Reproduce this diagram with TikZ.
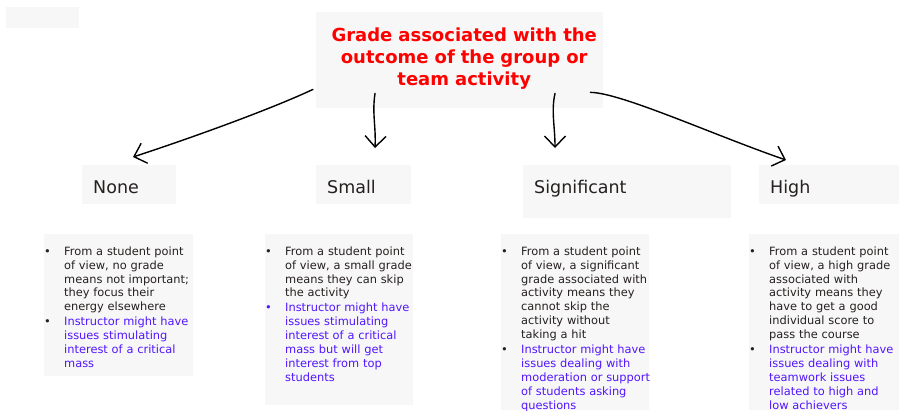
\documentclass[tikz,border=0pt]{standalone}
\usepackage{fontspec}
\setmainfont{DejaVu Sans}
\usetikzlibrary{arrows.meta, calc}

\definecolor{boxgray}{HTML}{F7F7F7}
\definecolor{titlered}{HTML}{FF0000}
\definecolor{textdark}{HTML}{262020}
\definecolor{textblue}{HTML}{5216FF}

% bullet colour, text colour, lines
\newcommand{\bulletitem}[3]{\noindent\makebox[20pt][l]{\color{#1}\textbullet}%
  {\color{#2}\begin{tabular}[t]{@{}l@{}}#3\end{tabular}}\par}

\begin{document}
\begin{tikzpicture}[x=1pt, y=-1pt,
    graybox/.style={fill=boxgray, anchor=north west, inner sep=0pt},
    labelbox/.style={graybox, inner xsep=11pt, text height=28pt, text depth=11pt,
        align=left, text=textdark, font=\fontsize{17.5}{21}\selectfont},
    listbox/.style={graybox, text height=21pt, font=\fontsize{11.4}{13.9}\selectfont},
    arrow/.style={-{Straight Barb[length=11pt,width=21pt]}, line width=1.4pt, line cap=round}]
                \useasboundingbox (0,0) rectangle (899,410);

                \node[graybox, minimum width=73pt, minimum height=21pt] (blank) at (6,7) {};
                \node[graybox, text width=287pt, text height=29pt, text depth=67pt, align=center, text=titlered,
                    font=\bfseries\fontsize{18}{22}\selectfont] (grade) at (316,12)
                    {\hspace*{9pt}Grade associated with the\\\hspace*{9pt}outcome of the group or\\\hspace*{9pt}team activity};

                \node[labelbox, text width=72pt] (none) at (82,165) {None};
                \node[labelbox, text width=73pt] (small) at (316,165) {Small};
                \node[labelbox, text width=186pt, text depth=25pt] (significant) at (523,165) {Significant};
                \node[labelbox, text width=118pt] (high) at (759,165) {High};

                \draw[arrow] ($(grade.south west)+(-3,-19)$) .. controls +(-45,21) and +(55,-18) .. ($(none.north west)+(51,-8)$);
                \draw[arrow] ($(grade.south west)+(59,-15)$) .. controls +(-3,20) and +(1,-22) .. ($(small.north west)+(59,-17)$);
                \draw[arrow] ($(grade.south west)+(239,-15)$) .. controls +(-4,18) and +(0,-22) .. ($(significant.north west)+(32,-17)$);
                \draw[arrow] ($(grade.south east)+(-13,-16)$) .. controls +(30,0) and +(-70,-24) .. ($(high.north west)+(27,-5)$);

                \node[listbox, text width=149pt, text depth=121pt] (nonelist) at (44,234) {%
                    \bulletitem{textdark}{textdark}{From a student point\\of view, no grade\\means not important;\\they focus their\\energy elsewhere}
                    \bulletitem{textdark}{textblue}{Instructor might have\\issues stimulating\\interest of a critical\\mass}};
                \node[listbox, text width=148pt, text depth=150pt] (smalllist) at (265,234) {%
                    \bulletitem{textdark}{textdark}{From a student point\\of view, a small grade\\means they can skip\\the activity}
                    \bulletitem{textblue}{textblue}{Instructor might have\\issues stimulating\\interest of a critical\\mass but will get\\interest from top\\students}};
                \node[listbox, text width=148pt, text depth=155pt] (significantlist) at (501,234) {%
                    \bulletitem{textdark}{textdark}{From a student point\\of view, a significant\\grade associated with\\activity means they\\cannot skip the\\activity without\\taking a hit}
                    \bulletitem{textdark}{textblue}{Instructor might have\\issues dealing with\\moderation or support\\of students asking\\questions}};
                \node[listbox, text width=150pt, text depth=155pt] (highlist) at (749,234) {%
                    \bulletitem{textdark}{textdark}{From a student point\\of view, a high grade\\associated with\\activity means they\\have to get a good\\individual score to\\pass the course}
                    \bulletitem{textdark}{textblue}{Instructor might have\\issues dealing with\\teamwork issues\\related to high and\\low achievers}};
            \end{tikzpicture}
\end{document}
